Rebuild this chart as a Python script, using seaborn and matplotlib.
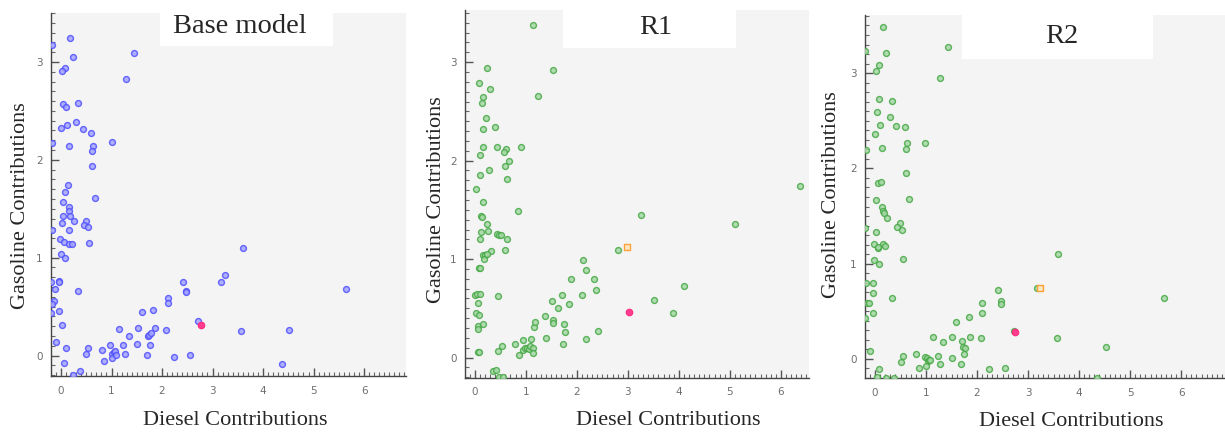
import matplotlib
matplotlib.use("Agg")
import matplotlib.pyplot as plt
from matplotlib.patches import Rectangle
from matplotlib.ticker import MultipleLocator
import seaborn as sns
import pandas as pd

sns.set_style("white")

# --- Base model (blue) ---
base_x = [-0.18, 0.17, 0.23, 0.07, 0.01, 1.45, 1.28, 0.03, 0.09, 0.34, 0.30, 0.11, 0.0, 0.43,
          0.59, -0.17, 0.16, 0.64, 1.0, 0.61, 0.61, 0.13, 0.07, 0.68, 0.03, 0.16, 0.16, 0.18,
          0.04, 0.02, 0.25, 0.50, 0.46, 0.53, -0.18, 0.16, -0.01, 0.06, 0.15, 0.21, 0.55, 0.0,
          0.08, 3.6, -0.19, -0.04, -0.03, -0.11, 0.33, -0.13, -0.17, -0.19, -0.03, 0.01, -0.10,
          0.09, 0.05, 0.23, 0.38, 0.53, 0.50, 0.81, 0.85, 0.97, 1.01, 1.04, 1.01, 1.07, 1.08,
          1.14, 1.23, 1.27, 1.35, 1.50, 1.52, 1.60, 1.70, 1.73, 1.74, 1.76, 1.78, 1.83, 1.87,
          2.08, 2.11, 2.11, 2.23, 2.42, 2.47, 2.48, 2.55, 2.72, 3.17, 3.25, 3.56, 4.38, 4.51, 5.65]
base_y = [3.17, 3.24, 3.05, 2.94, 2.91, 3.09, 2.83, 2.57, 2.54, 2.58, 2.39, 2.36, 2.33, 2.31,
          2.27, 2.17, 2.14, 2.14, 2.18, 2.09, 1.94, 1.74, 1.67, 1.61, 1.57, 1.52, 1.48, 1.43,
          1.43, 1.35, 1.37, 1.37, 1.33, 1.31, 1.28, 1.28, 1.19, 1.16, 1.14, 1.14, 1.15, 1.04,
          1.0, 1.10, 0.75, 0.76, 0.75, 0.68, 0.66, 0.56, 0.53, 0.43, 0.46, 0.31, 0.14,
          0.08, -0.08, -0.20, -0.16, 0.08, 0.02, 0.06, -0.06, 0.11, 0.02, 0.04, -0.02, 0.05, 0.01,
          0.27, 0.11, 0.02, 0.20, 0.12, 0.28, 0.45, 0.01, 0.20, 0.21, 0.11, 0.23, 0.47, 0.28,
          0.26, 0.59, 0.54, -0.01, 0.75, 0.66, 0.65, 0.01, 0.35, 0.75, 0.82, 0.25, -0.09, 0.26, 0.68]
base_pink = (2.77, 0.31)

# --- R1 (green) ---
r1_x = [1.14, 0.25, 1.53, 0.08, 0.30, 1.24, 0.16, 0.14, 0.22, 0.40, 0.16, 0.16, 0.43, 0.61,
        0.58, 0.91, 0.11, 0.67, 0.60, 0.29, 0.11, 0.64, 0.02, 0.17, 0.84, 0.13, 0.14, 0.24,
        0.27, 0.12, 0.43, 0.48, 0.51, 0.10, 0.63, 0.59, 0.31, 0.16, 0.20, 0.18, 0.24, 0.09,
        0.10, 0.01, 0.05, 0.10, 0.46, 0.07, 0.03, 0.09, 0.06, 0.07, 0.16, 0.07, 0.09, 0.36,
        0.42, 0.48, 0.55, 0.45, 0.53, 0.78, 0.86, 0.94, 0.95, 0.99, 1.02, 1.06, 1.08, 1.11,
        1.14, 1.14, 1.16, 1.19, 1.37, 1.39, 1.51, 1.53, 1.53, 1.64, 1.72, 1.73, 1.75, 1.77,
        1.84, 1.88, 2.10, 2.13, 2.19, 2.18, 2.33, 2.37, 2.42, 2.81, 3.26, 3.52, 3.89, 4.10,
        5.10, 6.38]
r1_y = [3.38, 2.94, 2.92, 2.79, 2.73, 2.66, 2.65, 2.59, 2.43, 2.34, 2.32, 2.14, 2.14, 2.12,
        2.09, 2.14, 2.06, 2.0, 1.95, 1.90, 1.85, 1.81, 1.71, 1.58, 1.49, 1.44, 1.43, 1.36,
        1.29, 1.27, 1.25, 1.24, 1.24, 1.20, 1.20, 1.09, 1.08, 1.04, 1.04, 1.0, 1.05, 0.91,
        0.91, 0.63, 0.65, 0.65, 0.62, 0.55, 0.45, 0.43, 0.32, 0.29, 0.34, 0.06, 0.06, -0.14,
        -0.13, -0.20, -0.20, 0.07, 0.12, 0.14, 0.03, 0.18, 0.08, 0.10, 0.10, 0.09, 0.12, 0.19,
        0.10, 0.05, 0.31, 0.36, 0.42, 0.20, 0.57, 0.38, 0.35, 0.50, 0.63, 0.14, 0.34, 0.26,
        0.54, 0.80, 0.63, 0.99, 0.89, 0.19, 0.80, 0.69, 0.27, 1.09, 1.45, 0.58, 0.45, 0.73,
        1.36, 1.74]
r1_pink = (3.02, 0.46)
r1_orange = (2.99, 1.12)

# --- R2 (green) ---
r2_x = [0.15, -0.19, 0.22, 1.44, 0.07, 0.01, 1.27, 0.08, 0.33, 0.03, 0.29, 0.10, 0.42, 0.58,
        0.0, 0.63, 0.98, -0.17, 0.14, 0.60, 0.61, 0.05, 0.12, 0.02, 0.67, 0.14, 0.16, 0.18,
        0.24, 0.49, 0.44, 0.52, -0.19, 0.01, -0.01, 0.16, 0.20, 0.05, 0.05, -0.01, 0.55, 0.08,
        3.59, -0.18, -0.04, -0.03, 0.33, -0.16, -0.11, -0.04, -0.19, -0.10, 0.08, 0.03, 0.22,
        0.37, 0.54, 0.50, 0.80, 0.86, 0.98, 1.01, 1.03, 1.05, 1.0, 1.07, 1.14, 1.24, 1.27,
        1.34, 1.50, 1.51, 1.59, 1.69, 1.71, 1.73, 1.76, 1.75, 1.84, 1.87, 2.07, 2.10, 2.10,
        2.23, 2.42, 2.46, 2.47, 2.55, 2.72, 3.17, 3.56, 4.52, 4.35, 5.66]
r2_y = [3.48, 3.23, 3.21, 3.27, 3.08, 3.02, 2.95, 2.73, 2.71, 2.59, 2.54, 2.46, 2.45, 2.43,
        2.36, 2.27, 2.27, 2.19, 2.21, 2.20, 1.95, 1.85, 1.86, 1.67, 1.68, 1.59, 1.55, 1.53,
        1.48, 1.43, 1.38, 1.35, 1.37, 1.33, 1.21, 1.21, 1.19, 1.16, 1.17, 1.04, 1.05, 1.0,
        1.10, 0.80, 0.80, 0.69, 0.64, 0.59, 0.59, 0.48, 0.43, 0.08, -0.11, -0.19, -0.20,
        -0.20, 0.03, -0.03, 0.05, -0.10, 0.02, 0.01, -0.02, -0.01, -0.07, -0.01, 0.23, 0.03, -0.05,
        0.18, 0.01, 0.23, 0.39, -0.05, 0.19, 0.13, 0.11, 0.05, 0.44, 0.23, 0.22, 0.59, 0.48,
        -0.11, 0.72, 0.61, 0.58, -0.09, 0.29, 0.74, 0.22, 0.13, -0.20, 0.64]
r2_pink = (2.75, 0.28)
r2_orange = (3.24, 0.74)

panels = [
    dict(title="Base model", x=base_x, y=base_y, pink=base_pink, orange=None,
         face="#a3a3ff", edge="#4f4fff",
         rect=[51 / 1225, 56 / 432, 355 / 1225, 363 / 432],
         xlim=(-0.198, 6.83), ylim=(-0.209, 3.50),
         box=(0.307, 0.794, 0.909), tpos=(0.532, 0.963),
         ylab=(-0.060, 0.47), xlab=(0.518, -0.096)),
    dict(title="R1", x=r1_x, y=r1_y, pink=r1_pink, orange=r1_orange,
         face="#a6d8a6", edge="#46a846",
         rect=[465 / 1225, 54.3 / 432, 344 / 1225, 367.7 / 432],
         xlim=(-0.19, 6.55), ylim=(-0.205, 3.53),
         box=(0.285, 0.788, 0.897), tpos=(0.554, 0.952),
         ylab=(-0.056, 0.483), xlab=(0.59, -0.091)),
    dict(title="R2", x=r2_x, y=r2_y, pink=r2_pink, orange=r2_orange,
         face="#a6d8a6", edge="#46a846",
         rect=[865 / 1225, 53.7 / 432, 360 / 1225, 363.3 / 432],
         xlim=(-0.196, 6.86), ylim=(-0.203, 3.61),
         box=(0.269, 0.80, 0.879), tpos=(0.546, 0.94),
         ylab=(-0.067, 0.505), xlab=(0.574, -0.093)),
]

serif = "Liberation Serif"
fig = plt.figure(figsize=(12.25, 4.32), dpi=100)

for p in panels:
    ax = fig.add_axes(p["rect"])
    ax.set_facecolor("#f4f4f4")
    df = pd.DataFrame({"x": p["x"], "y": p["y"]})
    sns.scatterplot(data=df, x="x", y="y", ax=ax, s=18, color=p["face"], alpha=0.85,
                    edgecolor=p["edge"], linewidth=1.0, zorder=3)
    sns.scatterplot(x=[p["pink"][0]], y=[p["pink"][1]], ax=ax, s=22, color="#ff3d8f",
                    edgecolor="#ff2a80", linewidth=0.8, zorder=4)
    if p["orange"] is not None:
        sns.scatterplot(x=[p["orange"][0]], y=[p["orange"][1]], ax=ax, s=20, marker="s",
                        color="#ffe6c2", edgecolor="#ffa238", linewidth=1.0, zorder=4)
    ax.set_xlim(*p["xlim"])
    ax.set_ylim(*p["ylim"])

    for side in ["top", "right"]:
        ax.spines[side].set_visible(False)
    for side in ["left", "bottom"]:
        ax.spines[side].set_color("#444444")
        ax.spines[side].set_linewidth(1.0)

    ax.xaxis.set_major_locator(MultipleLocator(1))
    ax.xaxis.set_minor_locator(MultipleLocator(0.1))
    ax.yaxis.set_major_locator(MultipleLocator(1))
    ax.yaxis.set_minor_locator(MultipleLocator(0.1))
    ax.tick_params(which="both", bottom=True, left=True, top=False, right=False)
    ax.tick_params(which="major", direction="in", length=6, width=1.0, color="#555555",
                   labelsize=7.5, labelcolor="#6e6e6e", pad=6)
    ax.tick_params(which="minor", direction="in", length=3, width=0.8, color="#666666")
    ax.tick_params(axis="x", which="major", pad=7)

    # white title box over the top of the plot area
    x0, x1, y0 = p["box"]
    ax.add_patch(Rectangle((x0, y0), x1 - x0, 1 - y0, transform=ax.transAxes,
                           facecolor="white", edgecolor="none", zorder=5, clip_on=False))
    ax.text(p["tpos"][0], p["tpos"][1], p["title"], transform=ax.transAxes,
            ha="center", va="center", fontsize=20.5, family=serif, zorder=6)

    ax.set_xlabel("Diesel Contributions", fontsize=16, family=serif)
    ax.set_ylabel("Gasoline Contributions", fontsize=16, family=serif)
    ax.xaxis.set_label_coords(*p["xlab"])
    ax.yaxis.set_label_coords(*p["ylab"])

fig.savefig("out.png", dpi=100)
